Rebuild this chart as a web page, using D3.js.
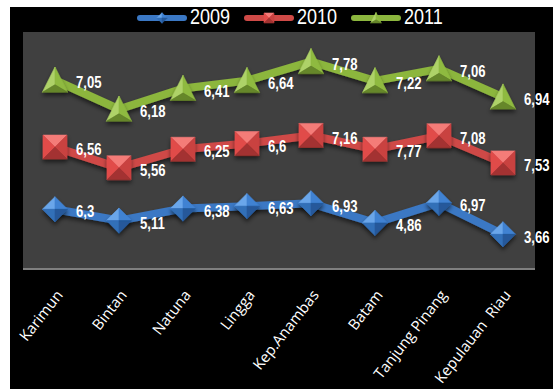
<!DOCTYPE html>
<html>
<head>
<meta charset="utf-8">
<script src="https://cdn.jsdelivr.net/npm/d3@7/dist/d3.min.js"></script>
<style>
  html, body { margin: 0; padding: 0; background: #ffffff; }
  svg { display: block; }
</style>
</head>
<body>
<div id="chart"></div>
<script>
// Regencies / cities of Kepulauan Riau
const categories = ["Karimun", "Bintan", "Natuna", "Lingga", "Kep.Anambas", "Batam", "Tanjung Pinang", "Kepulauan  Riau"];
const seriesNames = ["2009", "2010", "2011"];
const values2009 = [6.3, 5.11, 6.38, 6.63, 6.93, 4.86, 6.97, 3.66];
const values2010 = [6.56, 5.56, 6.25, 6.6, 7.16, 7.77, 7.08, 7.53];
const values2011 = [7.05, 6.18, 6.41, 6.64, 7.78, 7.22, 7.06, 6.94];
const yDomain = [0, 25];

const W = 553, H = 389;
const svg = d3.select("#chart").append("svg").attr("width", W).attr("height", H);

// black chart background
svg.append("rect").attr("x", 10).attr("y", 7).attr("width", W - 10).attr("height", H - 7).attr("fill", "#000");

const plot = { left: 23, right: 535, top: 32, bottom: 269 };
svg.append("rect")
  .attr("x", plot.left).attr("y", plot.top)
  .attr("width", plot.right - plot.left).attr("height", plot.bottom - plot.top)
  .attr("fill", "#404040");

const defs = svg.append("defs");
const shadow = defs.append("filter").attr("id", "shadow")
  .attr("x", "-20%").attr("y", "-20%").attr("width", "140%").attr("height", "160%");
shadow.append("feDropShadow").attr("dx", 0).attr("dy", 3).attr("stdDeviation", 2)
  .attr("flood-color", "#000").attr("flood-opacity", 0.55);

const x = d3.scalePoint().domain(categories).range([plot.left, plot.right]).padding(0.5);
const y = d3.scaleLinear().domain(yDomain).range([plot.bottom, plot.top]);

// stacked line: each series sits on top of the previous one
const rows = categories.map((c, i) => ({ cat: c, "2009": values2009[i], "2010": values2010[i], "2011": values2011[i] }));
const stacked = d3.stack().keys(seriesNames)(rows);

const palette = {
  "2009": { line: "#3b78c4", light: "#6aa6ea", mid: "#3f82d2", side: "#336fb8", dark: "#25599a" },
  "2010": { line: "#cf4a47", light: "#f47b78", mid: "#e14c4a", side: "#c94241", dark: "#a33331" },
  "2011": { line: "#8cb63e", light: "#aed268", mid: "#8fba40", side: "#7ea535", dark: "#66872a" }
};
const shapeOf = { "2009": "diamond", "2010": "square", "2011": "triangle" };

// narrow face: Liberation Sans squeezed horizontally
const narrowFont = "'Liberation Sans Narrow', 'Liberation Sans', Arial, sans-serif";
const squeeze = 0.82;

// bevelled marker drawn as facets around the centre
function drawMarker(g, shape, cx, cy, r, col) {
  const m = g.append("g").attr("transform", `translate(${cx},${cy})`);
  let facets;
  if (shape === "square") {
    const s = r;
    facets = [
      [[-s, -s], [s, -s], [0, 0], col.light],
      [[-s, -s], [-s, s], [0, 0], col.mid],
      [[s, -s], [s, s], [0, 0], col.side],
      [[-s, s], [s, s], [0, 0], col.dark]
    ];
  } else if (shape === "diamond") {
    const s = r * 1.05;
    facets = [
      [[0, -s], [-s, 0], [0, 0], col.light],
      [[0, -s], [s, 0], [0, 0], col.mid],
      [[-s, 0], [0, s], [0, 0], col.side],
      [[s, 0], [0, s], [0, 0], col.dark]
    ];
  } else {
    const s = r * 1.05;
    const top = [0, -s * 1.05], bl = [-s, s * 0.95], br = [s, s * 0.95], c = [0, s * 0.35];
    facets = [
      [top, bl, c, col.light],
      [top, br, c, col.mid],
      [bl, br, c, col.dark]
    ];
  }
  facets.forEach(f => {
    m.append("path")
      .attr("d", "M" + f[0] + "L" + f[1] + "L" + f[2] + "Z")
      .attr("fill", f[3]).attr("stroke", f[3]).attr("stroke-width", 0.6);
  });
  return m;
}

const lineGen = d3.line().x(d => x(d.data.cat)).y(d => y(d[1]));

const layers = svg.append("g");
stacked.forEach(layer => {
  const key = layer.key;
  const col = palette[key];
  const g = layers.append("g");
  g.append("path").datum(layer)
    .attr("d", lineGen)
    .attr("fill", "none")
    .attr("stroke", col.line)
    .attr("stroke-width", 8)
    .attr("stroke-linejoin", "round")
    .attr("filter", "url(#shadow)");
  const mk = g.append("g").attr("filter", "url(#shadow)");
  layer.forEach(d => drawMarker(mk, shapeOf[key], x(d.data.cat), y(d[1]), 12, col));
});

// value labels to the right of each point
const fmt = v => String(v).replace(".", ",");
stacked.forEach(layer => {
  svg.append("g").selectAll("text").data(layer).join("text")
    .attr("transform", d => `translate(${x(d.data.cat) + 21},${y(d[1]) + 4}) scale(${squeeze},1)`)
    .attr("dominant-baseline", "middle")
    .attr("fill", "#ffffff")
    .attr("font-family", narrowFont)
    .attr("font-weight", "bold")
    .attr("font-size", 16)
    .text(d => fmt(d.data[layer.key]));
});

// category axis
const xAxis = svg.append("g").attr("transform", `translate(0,${plot.bottom})`)
  .call(d3.axisBottom(x).tickSize(0).tickPadding(0));
xAxis.select(".domain").attr("stroke", "#7f7f7f").attr("stroke-width", 2)
  .attr("d", `M${plot.left},0H${plot.right}`);
xAxis.selectAll(".tick text")
  .attr("fill", "#ffffff")
  .attr("font-family", "'Open Sans', sans-serif")
  .attr("font-size", 15)
  .attr("text-anchor", "end")
  .attr("dy", "0.35em")
  .style("white-space", "pre")
  .attr("transform", "translate(4,23) rotate(-52)");

// legend
const legend = svg.append("g").attr("transform", "translate(137,18)");
seriesNames.forEach((k, i) => {
  const col = palette[k];
  const g = legend.append("g").attr("transform", `translate(${i * 107},0)`);
  g.append("line").attr("x1", 3).attr("x2", 47).attr("y1", 0).attr("y2", 0)
    .attr("stroke", col.line).attr("stroke-width", 6).attr("stroke-linecap", "round");
  drawMarker(g, shapeOf[k], 25, 0, 5, col);
  g.append("text")
    .attr("transform", `translate(53,0) scale(${squeeze},1)`)
    .attr("dominant-baseline", "middle")
    .attr("fill", "#ffffff")
    .attr("font-family", narrowFont)
    .attr("font-size", 22)
    .text(k);
});
</script>
</body>
</html>
